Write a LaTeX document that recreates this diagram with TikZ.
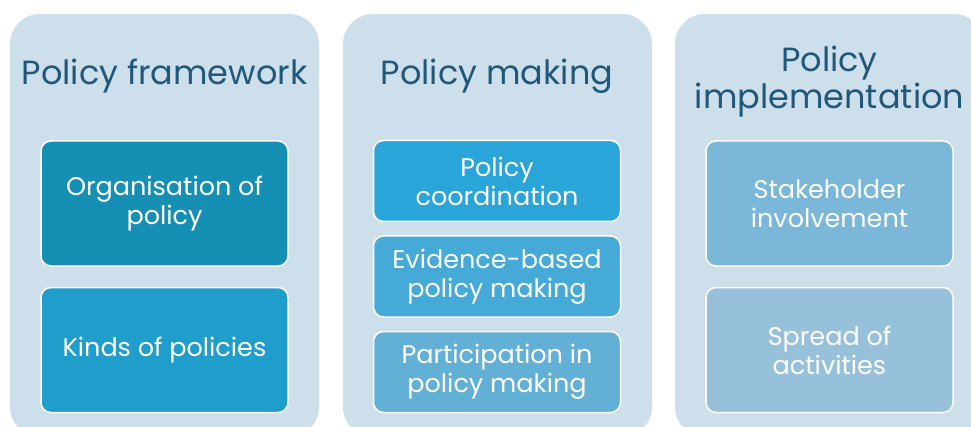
\documentclass[tikz,border=0pt]{standalone}
\usepackage{fontspec}
\setmainfont{Poppins}
\definecolor{panelc}{HTML}{CDDFEA}
\definecolor{titlec}{HTML}{1F587A}
\definecolor{cA}{HTML}{168FB5}
\definecolor{cB}{HTML}{1F9DCB}
\definecolor{cC}{HTML}{29A5D9}
\definecolor{cD}{HTML}{45AAD7}
\definecolor{cE}{HTML}{63B0D6}
\definecolor{cF}{HTML}{7AB7D9}
\definecolor{cG}{HTML}{97C1DB}
\tikzset{
  panel/.style={fill=panelc, rounded corners=30pt, minimum width=309pt, minimum height=423pt, inner sep=0pt},
  title/.style={text=titlec, font=\fontsize{33.5}{37}\selectfont, align=center, inner sep=0pt},
  item/.style={draw=white, line width=1.5pt, rounded corners=10pt, text=white, align=center,
    font=\fontsize{25.5}{29}\selectfont, minimum width=247pt, inner sep=0pt},
  tall/.style={minimum height=125pt},
  short/.style={minimum height=81pt}
}
\begin{document}
\begin{tikzpicture}[x=1pt,y=1pt]
\useasboundingbox (0,0) rectangle (971,426);
\clip (0,0) rectangle (971,426);
\node[panel] (p1) at (164.5,200.5) {};
\node[panel] (p2) at (497.5,200.5) {};
\node[panel] (p3) at (829.5,200.5) {};
\node[title, anchor=base] (t1) at (164.5,341) {Policy framework};
\node[title, anchor=base] (t2) at (497,341) {Policy making};
\node[title] (t3) at (829.5,344) {Policy\\implementation};
\node[item, tall, fill=cA] (a1) at (164.5,222.5) {Organisation of\\policy};
\node[item, tall, fill=cB] (a2) at (164.5,76) {Kinds of policies};
\node[item, short, fill=cC] (b1) at (497,245) {Policy\\coordination};
\node[item, short, fill=cD] (b2) at (497,149.5) {Evidence-based\\policy making};
\node[item, short, fill=cE] (b3) at (497,54) {Participation in\\policy making};
\node[item, tall, fill=cF] (c1) at (829.5,222.5) {Stakeholder\\involvement};
\node[item, tall, fill=cG] (c2) at (829.5,76) {Spread of\\activities};
\end{tikzpicture}
\end{document}
